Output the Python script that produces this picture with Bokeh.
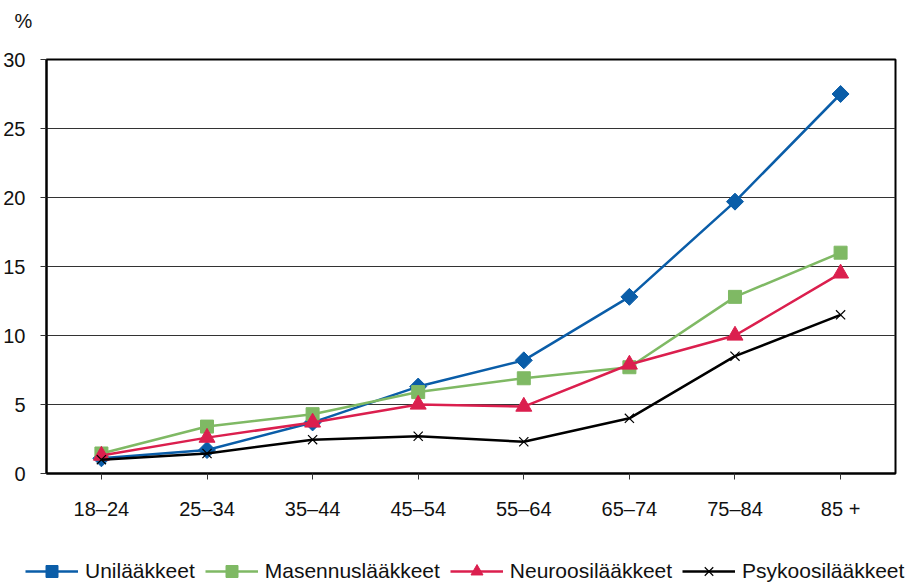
import math
from bokeh.plotting import figure
from bokeh.models import Legend, LegendItem, FixedTicker, Label
from bokeh.embed import file_html
from bokeh.resources import INLINE

categories = ["18–24", "25–34", "35–44", "45–54", "55–64", "65–74", "75–84", "85 +"]
uni = [1.1, 1.7, 3.7, 6.3, 8.2, 12.8, 19.7, 27.5]
masennus = [1.45, 3.4, 4.3, 5.9, 6.9, 7.7, 12.8, 16.0]
neuroosi = [1.3, 2.6, 3.7, 5.0, 4.85, 7.9, 10.0, 14.5]
psykoosi = [1.0, 1.45, 2.45, 2.7, 2.3, 4.0, 8.5, 11.5]
y_ticks = [0, 5, 10, 15, 20, 25, 30]
unit_label = "%"

FONT = "Liberation Sans"
W = 918
xs = list(range(len(categories)))


def strip(height):
    f = figure(width=W, height=height, output_backend="svg", toolbar_location=None,
               x_range=(100, 101), y_range=(100, 101),
               x_axis_location=None, y_axis_location=None,
               min_border_left=0, min_border_right=0, min_border_top=0, min_border_bottom=0)
    f.grid.visible = False
    f.outline_line_color = None
    f.background_fill_color = "white"
    f.border_fill_color = "white"
    return f


# top strip with the unit label
top = strip(50)
top.add_layout(Label(x=23, y=30, x_units="screen", y_units="screen", text=unit_label,
                     text_font=FONT, text_font_size="20px", text_color="#111111",
                     text_align="center", text_baseline="middle"))

p = figure(width=W, height=495, output_backend="svg", toolbar_location=None,
           x_range=(-0.52, 7.52), y_range=(0, 30),
           min_border_left=46, min_border_right=23, min_border_top=9, min_border_bottom=72)
p.background_fill_color = "white"
p.border_fill_color = "white"
p.outline_line_color = "black"
p.outline_line_width = 2

p.xgrid.grid_line_color = None
p.ygrid.grid_line_color = "#333333"
p.ygrid.grid_line_width = 1
p.ygrid.ticker = FixedTicker(ticks=y_ticks)

p.yaxis.ticker = FixedTicker(ticks=y_ticks)
p.yaxis.axis_line_color = "black"
p.yaxis.axis_line_width = 2
p.yaxis.major_tick_out = 6
p.yaxis.major_tick_in = 0
p.yaxis.major_tick_line_color = "#333333"
p.yaxis.minor_tick_line_color = None
p.yaxis.major_label_text_font = FONT
p.yaxis.major_label_text_font_size = "20px"
p.yaxis.major_label_text_color = "#111111"
p.yaxis.major_label_standoff = 15

p.xaxis.ticker = FixedTicker(ticks=xs)
p.xaxis.major_label_overrides = {i: c for i, c in enumerate(categories)}
p.xaxis.axis_line_color = "black"
p.xaxis.axis_line_width = 2
p.xaxis.major_tick_out = 6
p.xaxis.major_tick_in = 0
p.xaxis.major_tick_line_color = "#333333"
p.xaxis.minor_tick_line_color = None
p.xaxis.major_label_text_font = FONT
p.xaxis.major_label_text_font_size = "20px"
p.xaxis.major_label_text_color = "#111111"
p.xaxis.major_label_standoff = 18

# legend strip: same series drawn again outside its visible range, used as legend glyphs
lg = strip(40)

series = [
    ("Unilääkkeet", uni, "#0A5DA8", "square", 12, math.pi / 4),
    ("Masennuslääkkeet", masennus, "#7FB964", "square", 13, 0),
    ("Neuroosilääkkeet", neuroosi, "#DB1F4E", "triangle", 16, 0),
    ("Psykoosilääkkeet", psykoosi, "#000000", "x", 13, 0),
]

items = []
for name, vals, color, marker, size, ang in series:
    rs = []
    for fig in (p, lg):
        ln = fig.line(xs, vals, line_color=color, line_width=2.5)
        if marker == "x":
            sc = fig.scatter(xs, vals, marker="x", size=size, line_color=color, line_width=1.2)
        else:
            sc = fig.scatter(xs, vals, marker=marker, size=size, angle=ang,
                             fill_color=color, line_color=color)
        rs.append((ln, sc))
    items.append(LegendItem(label=name, renderers=list(rs[1])))

legend = Legend(items=items, orientation="horizontal", location=(25, -1),
                glyph_width=53, glyph_height=30, label_height=30, label_standoff=7,
                spacing=10, padding=0, margin=0,
                label_text_font=FONT, label_text_font_size="21px", label_text_color="#111111",
                border_line_color=None, background_fill_alpha=0)
lg.add_layout(legend, "center")

open("out.html", "w").write(file_html([top, p, lg], INLINE))
